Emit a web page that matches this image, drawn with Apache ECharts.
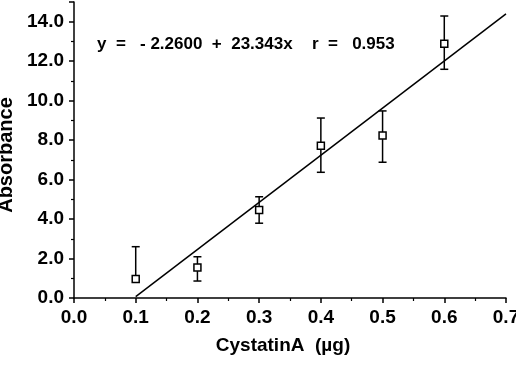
<!DOCTYPE html>
<html>
<head>
<meta charset="utf-8">
<script src="https://cdn.jsdelivr.net/npm/echarts@6/dist/echarts.min.js"></script>
<style>
  html, body { margin: 0; padding: 0; background: #fff; }
  #chart { width: 516px; height: 370px; }
</style>
</head>
<body>
<div id="chart"></div>
<script>
// amounts of cystatin A (ug) and the measured absorbance
const dose = [0.1, 0.2, 0.3, 0.4, 0.5, 0.6]
const absorb = [0.96, 1.54, 4.46, 7.72, 8.23, 12.89]
const errHigh = [2.6, 2.09, 5.13, 9.12, 9.48, 14.29]
const errLow = [null, 0.86, 3.79, 6.37, 6.88, 11.59]
// regression line as drawn
const fitX = [0.1, 0.7]
const fitY = [0.07, 14.4]

const FONT = "Liberation Sans"
const chart = echarts.init(document.getElementById("chart"))

const axisCommon = {
    axisLine: { lineStyle: { color: "#000", width: 1.5 } },
    axisTick: { length: 5, lineStyle: { color: "#000", width: 1.5 } },
    minorTick: { show: true, splitNumber: 2, length: 3, lineStyle: { color: "#000", width: 1.2 } },
    splitLine: { show: false },
    nameTextStyle: { color: "#000", fontFamily: FONT, fontWeight: "bold", fontSize: 19 },
}

chart.setOption({
    animation: false,
    backgroundColor: "#fff",
    grid: { left: 74, right: 10, top: 2, bottom: 72, containLabel: false, outerBoundsMode: "none" },
    xAxis: Object.assign({}, axisCommon, {
        type: "value", min: 0, max: 0.7, interval: 0.1,
        name: "CystatinA  (\u00b5g)", nameLocation: "middle", nameGap: 38,
        nameTextStyle: Object.assign({}, axisCommon.nameTextStyle, { padding: [0, 14, 0, 0] }),
        axisLabel: { color: "#000", fontFamily: FONT, fontWeight: "bold", fontSize: 19, margin: 10, formatter: v => v.toFixed(1) },
    }),
    yAxis: Object.assign({}, axisCommon, {
        type: "value", min: 0, max: 15, interval: 2,
        name: "Absorbance", nameLocation: "middle", nameGap: 58,
        nameTextStyle: Object.assign({}, axisCommon.nameTextStyle, { fontSize: 20, padding: [0, 10, 0, 0] }),
        axisLabel: { color: "#000", fontFamily: FONT, fontWeight: "bold", fontSize: 19, margin: 10,
            formatter: v => (v % 2 === 0 ? v.toFixed(1) : "") },
    }),
    graphic: [
        { type: "text", left: 97, top: 36, style: { text: "y  =   - 2.2600  +  23.343x", font: "bold 17px " + FONT, fill: "#000" } },
        { type: "text", left: 312, top: 36, style: { text: "r  =   0.953", font: "bold 17px " + FONT, fill: "#000" } },
    ],
    series: [
        {
            type: "line",
            data: fitX.map((x, i) => [x, fitY[i]]),
            symbol: "none",
            lineStyle: { color: "#000", width: 1.5 },
            z: 2,
        },
        {
            type: "custom",
            data: dose.map((x, i) => [x, errLow[i] == null ? absorb[i] : errLow[i], errHigh[i], errLow[i] == null ? 0 : 1]),
            renderItem: (params, api) => {
                const x = api.value(0)
                const top = api.coord([x, api.value(2)])
                const bot = api.coord([x, api.value(1)])
                const hw = 4
                const st = { stroke: "#000", lineWidth: 1.5 }
                const kids = [
                    { type: "line", shape: { x1: top[0], y1: top[1], x2: bot[0], y2: bot[1] }, style: st },
                    { type: "line", shape: { x1: top[0] - hw, y1: top[1], x2: top[0] + hw, y2: top[1] }, style: st },
                ]
                if (api.value(3)) kids.push({ type: "line", shape: { x1: bot[0] - hw, y1: bot[1], x2: bot[0] + hw, y2: bot[1] }, style: st })
                return { type: "group", children: kids }
            },
            z: 3,
        },
        {
            type: "scatter",
            data: dose.map((x, i) => [x, absorb[i]]),
            symbol: "rect",
            symbolSize: 7,
            itemStyle: { color: "#fff", borderColor: "#000", borderWidth: 1.5, opacity: 1 },
            z: 4,
        },
    ],
})
</script>
</body>
</html>
